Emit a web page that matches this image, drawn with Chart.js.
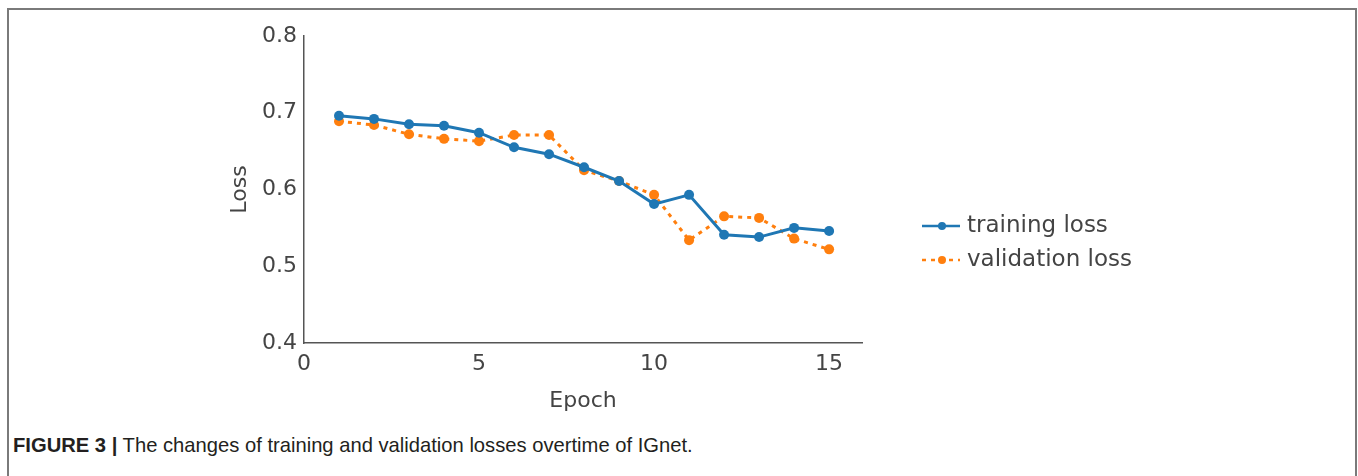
<!DOCTYPE html>
<html>
<head>
<meta charset="utf-8">
<script src="https://cdn.jsdelivr.net/npm/chart.js@4.4.1/dist/chart.umd.min.js"></script>
<style>
    html, body { margin: 0; padding: 0; background: #fff; }
    body { width: 1358px; height: 476px; position: relative; overflow: hidden; }
    .frame {
        position: absolute; left: 7px; top: 8px; width: 1350px; height: 500px;
        border: 2px solid #7a7a7a; box-sizing: border-box;
    }
    #wrap { position: absolute; left: 0; top: 0; width: 1358px; height: 420px; }
    .caption {
        position: absolute; left: 13px; top: 434px;
        font-family: "Liberation Sans Narrow", "Liberation Sans", Arial, sans-serif;
        font-size: 20.2px; color: #231f20; white-space: nowrap;
    }
    .caption b { font-weight: bold; }
</style>
</head>
<body>
<div class="frame"></div>
<div id="wrap"><canvas id="lossChart"></canvas></div>
<div class="caption"><b>FIGURE 3 |</b> The changes of training and validation losses overtime of IGnet.</div>
<script>
// 数据
const epochs = [1, 2, 3, 4, 5, 6, 7, 8, 9, 10, 11, 12, 13, 14, 15];
const trainingLoss = [0.696, 0.692, 0.685, 0.683, 0.674, 0.655, 0.646, 0.629, 0.611, 0.581, 0.593, 0.541, 0.538, 0.550, 0.546];
const validationLoss = [0.689, 0.684, 0.672, 0.666, 0.663, 0.671, 0.671, 0.625, 0.611, 0.593, 0.534, 0.565, 0.563, 0.536, 0.522];
const xTicks = [0, 5, 10, 15];
const yTicks = [0.4, 0.5, 0.6, 0.7, 0.8];

const blue = '#1f77b4';
const orange = '#ff7f0e';
const textColor = '#444444';
const axisColor = '#555555';
const fontFamily = '"DejaVu Sans", Verdana, sans-serif';

// 右侧图例（线 + 点）
const sideLegend = {
    id: 'sideLegend',
    afterDraw(chart) {
        const ctx = chart.ctx;
        const x0 = 922, x1 = 960, dotX = 942, textX = 967;
        const rows = [226, 260];
        ctx.save();
        chart.data.datasets.forEach((ds, i) => {
            const y = rows[i];
            ctx.strokeStyle = ds.borderColor;
            ctx.lineWidth = 2.5;
            ctx.setLineDash(ds.borderDash || []);
            ctx.beginPath();
            ctx.moveTo(x0, y);
            ctx.lineTo(x1, y);
            ctx.stroke();
            ctx.setLineDash([]);
            ctx.fillStyle = ds.borderColor;
            ctx.beginPath();
            ctx.arc(dotX, y, 4, 0, Math.PI * 2);
            ctx.fill();
            ctx.fillStyle = textColor;
            ctx.font = '23px ' + fontFamily;
            ctx.textBaseline = 'middle';
            ctx.textAlign = 'left';
            ctx.fillText(ds.label, textX, y);
        });
        ctx.restore();
    }
};

const ctx = document.getElementById('lossChart').getContext('2d');
new Chart(ctx, {
    type: 'line',
    data: {
        datasets: [{
            label: 'training loss',
            data: epochs.map((e, i) => ({ x: e, y: trainingLoss[i] })),
            borderColor: blue,
            backgroundColor: blue,
            borderWidth: 3,
            pointRadius: 5,
            pointBorderWidth: 0,
            tension: 0
        }, {
            label: 'validation loss',
            data: epochs.map((e, i) => ({ x: e, y: validationLoss[i] })),
            borderColor: orange,
            backgroundColor: orange,
            borderWidth: 3,
            borderDash: [4, 5],
            pointRadius: 5,
            pointBorderWidth: 0,
            tension: 0
        }]
    },
    options: {
        responsive: true,
        maintainAspectRatio: false,
        animation: false,
        layout: {
            padding: { left: 200, right: 496, top: 36, bottom: 0 }
        },
        scales: {
            x: {
                type: 'linear',
                min: 0,
                max: 15.94,
                afterBuildTicks: (scale) => { scale.ticks = xTicks.map(v => ({ value: v })); },
                afterFit: (scale) => { scale.height = 77; },
                grid: { display: false, drawTicks: false },
                border: { display: true, color: axisColor, width: 1.5 },
                ticks: {
                    color: textColor,
                    padding: 8,
                    maxRotation: 0,
                    font: { family: fontFamily, size: 22 }
                },
                title: {
                    display: true,
                    text: 'Epoch',
                    color: textColor,
                    padding: { top: 0, bottom: 6 },
                    font: { family: fontFamily, size: 22 }
                }
            },
            y: {
                min: 0.4,
                max: 0.8,
                afterBuildTicks: (scale) => { scale.ticks = yTicks.map(v => ({ value: v })); },
                afterFit: (scale) => { scale.width = 104; },
                grid: { display: false, drawTicks: false },
                border: { display: true, color: axisColor, width: 1.5 },
                ticks: {
                    color: textColor,
                    padding: 7,
                    callback: (v) => v.toFixed(1),
                    font: { family: fontFamily, size: 22 }
                },
                title: {
                    display: true,
                    text: 'Loss',
                    color: textColor,
                    padding: { top: 27, bottom: 0 },
                    font: { family: fontFamily, size: 22 }
                }
            }
        },
        plugins: {
            legend: { display: false },
            tooltip: { enabled: false }
        }
    },
    plugins: [sideLegend]
});
</script>
</body>
</html>
